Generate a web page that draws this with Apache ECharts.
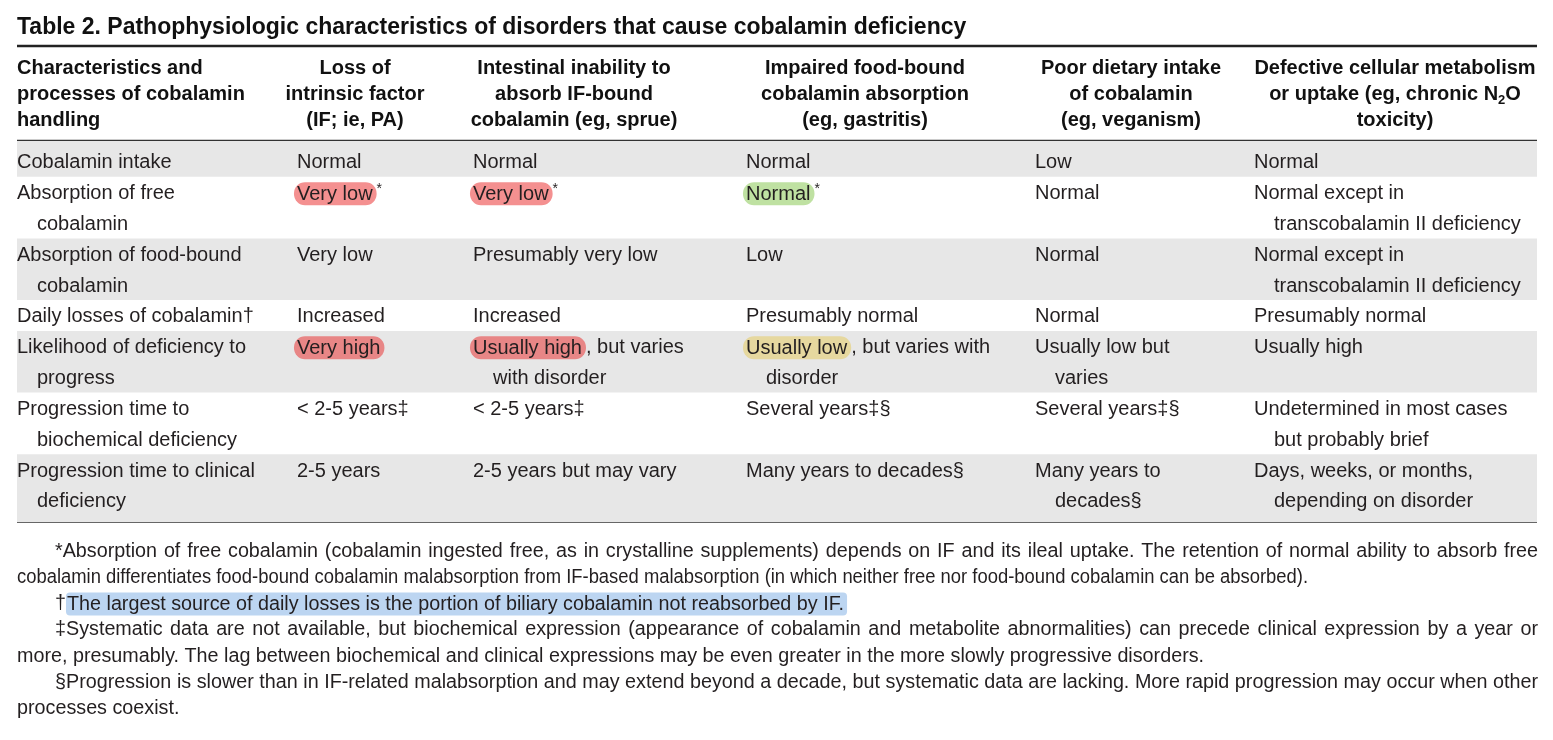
<!DOCTYPE html>
<html><head><meta charset="utf-8">
<script src="https://cdn.jsdelivr.net/npm/echarts@6/dist/echarts.min.js"></script>
<style>html,body{margin:0;padding:0;background:#fff}#c{width:1553px;height:740px}</style>
</head><body><div id="c"></div>
<script>
// ---------------- DATA ----------------
const titleText = 'Table 2. Pathophysiologic characteristics of disorders that cause cobalamin deficiency';
const headerLines = [
  ['Characteristics and', 'processes of cobalamin', 'handling'],
  ['Loss of', 'intrinsic factor', '(IF; ie, PA)'],
  ['Intestinal inability to', 'absorb IF-bound', 'cobalamin (eg, sprue)'],
  ['Impaired food-bound', 'cobalamin absorption', '(eg, gastritis)'],
  ['Poor dietary intake', 'of cobalamin', '(eg, veganism)'],
  ['Defective cellular metabolism', 'or uptake (eg, chronic N₂O', 'toxicity)']
];
const rowLabels = [
  'Cobalamin intake',
  'Absorption of free\ncobalamin',
  'Absorption of food-bound\ncobalamin',
  'Daily losses of cobalamin†',
  'Likelihood of deficiency to\nprogress',
  'Progression time to\nbiochemical deficiency',
  'Progression time to clinical\ndeficiency'
];
const colLossIF = ['Normal', 'Very low*', 'Very low', 'Increased', 'Very high', '< 2-5 years‡', '2-5 years'];
const colIntestinal = ['Normal', 'Very low*', 'Presumably very low', 'Increased', 'Usually high, but varies\nwith disorder', '< 2-5 years‡', '2-5 years but may vary'];
const colFoodBound = ['Normal', 'Normal*', 'Low', 'Presumably normal', 'Usually low, but varies with\ndisorder', 'Several years‡§', 'Many years to decades§'];
const colDietary = ['Low', 'Normal', 'Normal', 'Normal', 'Usually low but\nvaries', 'Several years‡§', 'Many years to\ndecades§'];
const colCellular = ['Normal', 'Normal except in\ntranscobalamin II deficiency', 'Normal except in\ntranscobalamin II deficiency', 'Presumably normal', 'Usually high', 'Undetermined in most cases\nbut probably brief', 'Days, weeks, or months,\ndepending on disorder'];
// highlights: [row, column, highlighted text, colour key]
const highlights = [
  [1, 1, 'Very low', 'red'], [1, 2, 'Very low', 'red'], [1, 3, 'Normal', 'green'],
  [4, 1, 'Very high', 'red'], [4, 2, 'Usually high', 'red'], [4, 3, 'Usually low', 'yellow']
];
const footnotes = [
  ['*Absorption of free cobalamin (cobalamin ingested free, as in crystalline supplements) depends on IF and its ileal uptake. The retention of normal ability to absorb free',
   'cobalamin differentiates food-bound cobalamin malabsorption from IF-based malabsorption (in which neither free nor food-bound cobalamin can be absorbed).'],
  ['†The largest source of daily losses is the portion of biliary cobalamin not reabsorbed by IF.'],
  ['‡Systematic data are not available, but biochemical expression (appearance of cobalamin and metabolite abnormalities) can precede clinical expression by a year or',
   'more, presumably. The lag between biochemical and clinical expressions may be even greater in the more slowly progressive disorders.'],
  ['§Progression is slower than in IF-related malabsorption and may extend beyond a decade, but systematic data are lacking. More rapid progression may occur when other',
   'processes coexist.']
];
const footnoteHighlight = 'The largest source of daily losses is the portion of biliary cobalamin not reabsorbed by IF.';

// ---------------- STYLE / LAYOUT ----------------
const FAM = '"Liberation Sans", Arial, Helvetica, sans-serif';
const TXT = '#231f20';
const BAND = '#e7e7e7';
const HL_COLORS = { red: '#f49090', redG: '#e88686', green: '#bfe1a2', yellow: '#efe2a8', yellowG: '#e6d89f' };
const COL_X = [17, 297, 473, 746, 1035, 1254];
const HEAD_CX = [null, 355, 574, 865, 1131, 1395];
const INDENT = 20;
const LEFT = 17, RIGHT = 1537;
const TEXT_DY = 1.5;

const columns = [rowLabels, colLossIF, colIntestinal, colFoodBound, colDietary, colCellular];
const nRows = rowLabels.length;
const rowLines = [];
for (let r = 0; r < nRows; r++) {
  let m = 1;
  columns.forEach(col => { m = Math.max(m, col[r].split('\n').length); });
  rowLines.push(m);
}
const rowStart = [];
let acc = 0;
rowLines.forEach(n => { rowStart.push(acc); acc += n; });
const totalLines = acc;
const Y_MIN = -0.16, Y_MAX = totalLines + 0.2;
const seriesData = rowStart.map((s, i) => [0, s, rowLines[i]]);

const richStyles = {};
Object.keys(HL_COLORS).forEach(k => {
  richStyles[k] = { font: '20px ' + FAM, fill: TXT, backgroundColor: HL_COLORS[k], borderRadius: 11, padding: [2, 4, 1, 3] };
});
richStyles.sup = { font: '14px ' + FAM, fill: TXT, verticalAlign: 'top' };

function findHL(r, c) {
  for (const h of highlights) if (h[0] === r && h[1] === c) return h;
  return null;
}

function renderRow(params, api) {
  const r = params.dataIndex;
  const start = api.value(1), n = api.value(2);
  const cs = params.coordSys;
  const yTop = api.coord([0, r === 0 ? Y_MIN : start])[1];
  const yBot = api.coord([0, r === nRows - 1 ? Y_MAX : start + n])[1];
  const shaded = r % 2 === 0;
  const children = [];
  if (shaded) {
    children.push({ type: 'rect', shape: { x: cs.x, y: yTop, width: cs.width, height: yBot - yTop }, style: { fill: BAND } });
  }
  columns.forEach((col, c) => {
    const lines = col[r].split('\n');
    const hl = findHL(r, c);
    lines.forEach((ln, i) => {
      let s = ln;
      let dx = 0;
      if (hl && i === 0 && s.startsWith(hl[2])) {
        let key = hl[3];
        if (shaded && HL_COLORS[key + 'G']) key = key + 'G';
        s = '{' + key + '|' + hl[2] + '}' + s.slice(hl[2].length);
        dx = -3;
      }
      s = s.replace(/\*/g, '{sup|*}');
      children.push({
        type: 'text',
        x: COL_X[c] + (i > 0 ? INDENT : 0) + dx,
        y: api.coord([0, start + i + 0.5])[1] + TEXT_DY,
        style: { text: s, font: '20px ' + FAM, fill: TXT, textAlign: 'left', textVerticalAlign: 'middle', rich: richStyles }
      });
    });
  });
  return { type: 'group', children };
}

// ---------------- GRAPHIC (title, header, rules, footnotes) ----------------
const graphics = [];
graphics.push({ type: 'text', x: LEFT, y: 28, style: { text: titleText, font: 'bold 23px ' + FAM, fill: '#111', textAlign: 'left', textVerticalAlign: 'middle' } });
graphics.push({ type: 'line', shape: { x1: LEFT, y1: 46, x2: RIGHT, y2: 46 }, style: { stroke: '#222', lineWidth: 2.5 } });
graphics.push({ type: 'line', shape: { x1: LEFT, y1: 140.5, x2: RIGHT, y2: 140.5 }, style: { stroke: '#333', lineWidth: 1.5 } });
graphics.push({ type: 'line', shape: { x1: LEFT, y1: 522, x2: RIGHT, y2: 522 }, style: { stroke: '#333', lineWidth: 1.5 } });
const headRich = {
  hb: { font: 'bold 20px ' + FAM, fill: '#111', lineHeight: 26 },
  sub: { font: 'bold 13px ' + FAM, fill: '#111', lineHeight: 26, verticalAlign: 'bottom' }
};
headerLines.forEach((lines, c) => {
  lines.forEach((ln, i) => {
    const hasSub = ln.indexOf('₂') >= 0;
    const txt = hasSub ? '{hb|' + ln.replace('₂', '}{sub|2}{hb|') + '}' : ln;
    graphics.push({
      type: 'text', x: c === 0 ? LEFT : HEAD_CX[c], y: 68 + i * 26,
      style: { text: txt, font: 'bold 20px ' + FAM, fill: '#111', textAlign: c === 0 ? 'left' : 'center', textVerticalAlign: 'middle', rich: hasSub ? headRich : undefined }
    });
  });
});

// footnotes (justified paragraphs)
const cv = document.createElement('canvas').getContext('2d');
function measure(t, fs) { cv.font = fs + 'px ' + FAM; return cv.measureText(t).width; }
const fnFs = 19.5;
const fnSx = 788 / measure(footnotes[1][0], fnFs);          // natural width of the single-line note
const FN_Y0 = 551.5, FN_DY = 26.2, FN_IND = 55, FN_RIGHT = 1538;
const FN_SQUEEZE = { 1: 1308 };                               // typeset-tight line: right edge
let li = 0;
footnotes.forEach(par => {
  par.forEach((ln, i) => {
    const y = FN_Y0 + li * FN_DY;
    const x0 = i === 0 ? FN_IND : LEFT;
    const last = i === par.length - 1;
    if (!last) {
      const words = ln.split(' ');
      let sx = fnSx;
      const raw = words.map(w => measure(w, fnFs));
      const rawTot = raw.reduce((a, b) => a + b, 0);
      const sp = measure(' ', fnFs);
      const need = (rawTot + sp * (words.length - 1)) * sx;
      if (need > FN_RIGHT - x0) sx = sx * (FN_RIGHT - x0) / need;
      const ws = raw.map(w => w * sx);
      const tot = ws.reduce((a, b) => a + b, 0);
      const gap = (FN_RIGHT - x0 - tot) / (words.length - 1);
      let x = x0;
      words.forEach((w, k) => {
        graphics.push({ type: 'text', x: x, y: y, scaleX: sx, style: { text: w, font: fnFs + 'px ' + FAM, fill: TXT, textAlign: 'left', textVerticalAlign: 'middle' } });
        x += ws[k] + gap;
      });
    } else {
      let sx = fnSx;
      if (FN_SQUEEZE[li]) sx = (FN_SQUEEZE[li] - x0) / measure(ln, fnFs);
      let txt = ln, rich;
      const p = ln.indexOf(footnoteHighlight);
      if (p >= 0) {
        txt = ln.slice(0, p) + '{hb|' + footnoteHighlight + '}' + ln.slice(p + footnoteHighlight.length);
        rich = { hb: { font: fnFs + 'px ' + FAM, fill: TXT, backgroundColor: '#bcd5f1', padding: [2, 3, 1, 1], borderRadius: 4 } };
      }
      graphics.push({ type: 'text', x: x0, y: y, scaleX: sx, style: { text: txt, font: fnFs + 'px ' + FAM, fill: TXT, textAlign: 'left', textVerticalAlign: 'middle', rich: rich } });
    }
    li++;
  });
});

// ---------------- CHART ----------------
const chart = echarts.init(document.getElementById('c'), null, { renderer: 'canvas' });
chart.setOption({
  animation: false,
  backgroundColor: '#ffffff',
  grid: { left: LEFT, right: 1553 - RIGHT, top: 141, bottom: 740 - 522 },
  xAxis: { type: 'value', min: 0, max: 1, show: false },
  yAxis: { type: 'value', min: Y_MIN, max: Y_MAX, inverse: true, show: false },
  series: [{ type: 'custom', renderItem: renderRow, data: seriesData, silent: true, z: 2 }],
  graphic: { elements: graphics }
});
</script>
</body></html>
